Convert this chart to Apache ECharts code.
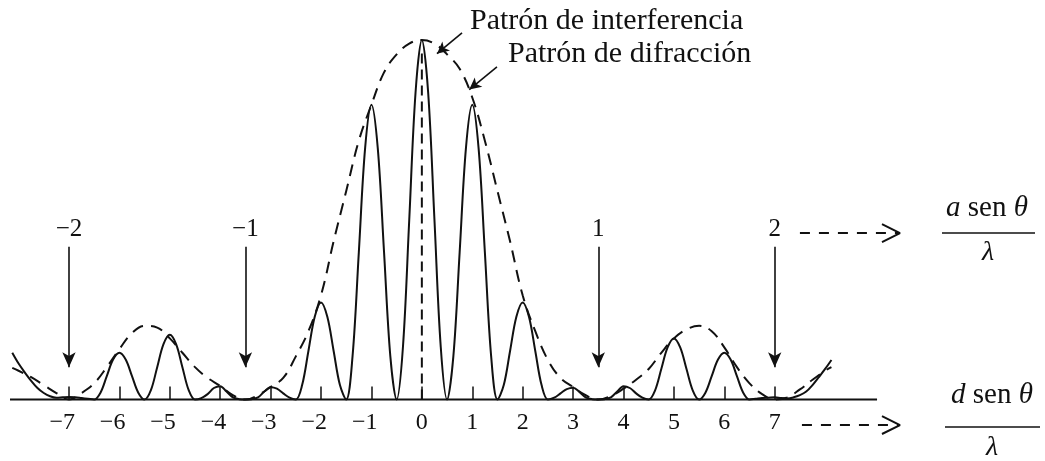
<!DOCTYPE html>
<html><head><meta charset="utf-8">
<script src="https://cdn.jsdelivr.net/npm/echarts@6/dist/echarts.min.js"></script>
<style>html,body{margin:0;padding:0;background:#fff}#c{width:1045px;height:461px}</style>
</head><body><div id="c"></div><script>
// ---------- data ----------
// x positions in units of d·senθ/λ, intensity relative to the central maximum
const sampleX = [
 -8.125,-8,-7.875,-7.75,-7.625,-7.5,-7.375,-7.25,-7.125,
 -7,-6.875,-6.75,-6.625,-6.5,-6.375,-6.25,-6.125,
 -6,-5.875,-5.75,-5.625,-5.5,-5.375,-5.25,-5.125,
 -5,-4.875,-4.75,-4.625,-4.5,-4.375,-4.25,-4.125,
 -4,-3.875,-3.75,-3.625,-3.5,-3.375,-3.25,-3.125,
 -3,-2.875,-2.75,-2.625,-2.5,-2.375,-2.25,-2.125,
 -2,-1.875,-1.75,-1.625,-1.5,-1.375,-1.25,-1.125,
 -1,-0.875,-0.75,-0.625,-0.5,-0.375,-0.25,-0.125,
 0,0.125,0.25,0.375,0.5,0.625,0.75,0.875,
 1,1.125,1.25,1.375,1.5,1.625,1.75,1.875,
 2,2.125,2.25,2.375,2.5,2.625,2.75,2.875,
 3,3.125,3.25,3.375,3.5,3.625,3.75,3.875,
 4,4.125,4.25,4.375,4.5,4.625,4.75,4.875,
 5,5.125,5.25,5.375,5.5,5.625,5.75,5.875,
 6,6.125,6.25,6.375,6.5,6.625,6.75,6.875,
 7,7.125,7.25,7.375,7.5,7.625,7.75,7.875,
 8,8.125
];
const interference = [
 0.13,0.10,0.075,0.052,0.032,0.018,0.009,0.005,0.006,
 0.007,0.006,0.004,0.002,0,0.019,0.065,0.111,
 0.13,0.111,0.065,0.019,0,0.026,0.09,0.154,
 0.18,0.154,0.09,0.026,0,0.004,0.015,0.032,
 0.037,0.022,0.006,0.001,0,0.001,0.006,0.022,
 0.034,0.03,0.017,0.005,0,0.04,0.135,0.23,
 0.27,0.23,0.135,0.04,0,0.12,0.41,0.70,
 0.82,0.70,0.41,0.12,0,0.146,0.5,0.854,
 1.0,0.854,0.5,0.146,0,0.12,0.41,0.70,
 0.82,0.70,0.41,0.12,0,0.04,0.135,0.23,
 0.27,0.23,0.135,0.04,0,0.005,0.017,0.029,
 0.033,0.021,0.006,0.001,0,0.001,0.006,0.022,
 0.037,0.032,0.017,0.005,0,0.025,0.085,0.145,
 0.17,0.145,0.085,0.025,0,0.019,0.065,0.111,
 0.13,0.111,0.065,0.019,0,0.002,0.004,0.005,
 0.006,0.004,0.003,0.006,0.012,0.022,0.04,0.062,
 0.085,0.11
];
const envelopeX = [
 -8.125,-8,-7.75,-7.5,-7.25,-7,-6.75,-6.5,-6.25,-6,-5.75,-5.5,-5.25,-5,-4.75,-4.5,-4.25,-4,-3.75,
 -3.5,-3.25,-3,-2.75,-2.5,-2.25,-2,-1.75,-1.5,-1.25,-1,-0.75,-0.5,-0.25,
 0,0.25,0.5,0.75,1,1.25,1.5,1.75,2,2.25,2.5,2.75,3,3.25,
 3.5,3.75,4,4.25,4.5,4.75,5,5.25,5.5,5.75,6,6.25,6.5,6.75,7,7.25,7.5,7.75,8,8.125
];
const diffraction = [
 0.088,0.08,0.062,0.04,0.018,0,0.018,0.045,0.09,0.14,0.185,0.205,0.2,0.17,0.13,0.09,0.06,0.038,0.012,
 0,0.012,0.035,0.06,0.12,0.19,0.29,0.44,0.58,0.72,0.82,0.91,0.96,0.99,
 1.0,0.99,0.96,0.92,0.84,0.72,0.58,0.44,0.29,0.19,0.11,0.06,0.035,0.012,
 0,0.01,0.03,0.055,0.085,0.13,0.17,0.195,0.205,0.19,0.145,0.09,0.045,0.015,0,0.006,0.028,0.055,0.08,0.09
];
const tickValues = [-7,-6,-5,-4,-3,-2,-1,0,1,2,3,4,5,6,7];
const orderPositions = [-7,-3.5,3.5,7];        // a·senθ/λ = -2,-1,1,2
const orderLabels = ['−2','−1','1','2'];
const titleInterference = 'Patrón de interferencia';
const titleDiffraction = 'Patrón de difracción';

// ---------- chart ----------
const FONT = 'Liberation Serif';
const INK = '#111';
const X_MIN = -8.17, X_AXIS_END = 9.03, X_MAX = 9.7;
const chart = echarts.init(document.getElementById('c'), null, {renderer:'canvas'});

const solidData = sampleX.map((x,i)=>[x, interference[i]]);
const envData = envelopeX.map((x,i)=>[x, diffraction[i]]);

const orderLines = orderPositions.map((x,i)=>[
  {coord:[x,0.425], name: orderLabels[i]},
  {coord:[x,0.09]}
]);
const pointerLines = [
  [{coord:[0.797,1.02]},{coord:[0.30,0.962]}],
  [{coord:[1.49,0.925]},{coord:[0.94,0.862]}]
];

const arrowStyle = {color:INK, width:2, type:[10,9]};
chart.setOption({
  animation:false,
  grid:{left:10, right:1045-10-(X_MAX-X_MIN)*50.41, top:0, bottom:61.5},
  xAxis:{
    type:'value', min:X_MIN, max:X_MAX,
    axisLine:{show:false},
    axisTick:{show:true, inside:true, length:13, customValues:tickValues, lineStyle:{color:INK, width:1.5}},
    axisLabel:{
      customValues:tickValues, margin:11, color:INK, fontFamily:FONT, fontSize:24,
      formatter:v => v<0 ? '−'+Math.abs(v)+'{h|−}' : String(v),
      rich:{h:{color:'rgba(0,0,0,0)', fontFamily:FONT, fontSize:24}}
    },
    splitLine:{show:false}
  },
  yAxis:{type:'value', min:0, max:1.1113, show:false},
  series:[
    {name:'eje x', type:'line', data:[[X_MIN,0],[X_AXIS_END,0]], showSymbol:false, clip:false,
     lineStyle:{color:INK, width:2}, z:1},
    {name:titleDiffraction, type:'line', data:envData, smooth:0.4, showSymbol:false, clip:false,
     lineStyle:{color:INK, width:2, type:[12,8]}, z:2},
    {name:titleInterference, type:'line', data:solidData, smooth:0.35, showSymbol:false, clip:false,
     lineStyle:{color:INK, width:2}, z:3},
    {name:'eje', type:'line', data:[[0,0],[0,0.965]], showSymbol:false,
     lineStyle:{color:INK, width:2, type:[10,6]}, z:2},
    {name:'órdenes', type:'line', data:[], markLine:{
      silent:true, symbol:['none','arrow'], symbolSize:[10,15], animation:false,
      lineStyle:{color:INK, width:1.6, type:'solid'},
      label:{show:true, position:'start', formatter:'{b}', distance:5, color:INK, fontFamily:FONT, fontSize:25},
      data:orderLines}},
    {name:'flechas', type:'line', data:[], markLine:{
      silent:true, symbol:['none','arrow'], symbolSize:[9,12], animation:false,
      lineStyle:{color:INK, width:1.6, type:'solid'},
      label:{show:false}, data:pointerLines}},
    // dashed arrows pointing to the axis-quantity fractions
    {name:'flecha a', type:'line', data:[[7.5,0.463],[9.45,0.463]], showSymbol:false, clip:false, lineStyle:arrowStyle},
    {name:'punta a', type:'line', data:[[9.128,0.488],[9.485,0.463],[9.128,0.438]], showSymbol:false, clip:false, lineStyle:{color:INK,width:2}},
    {name:'flecha d', type:'line', data:[[7.54,-0.071],[9.45,-0.071]], showSymbol:false, clip:false, lineStyle:arrowStyle},
    {name:'punta d', type:'line', data:[[9.128,-0.046],[9.485,-0.071],[9.128,-0.096]], showSymbol:false, clip:false, lineStyle:{color:INK,width:2}}
  ],
  graphic:[
    {type:'text', x:470, y:21, style:{text:titleInterference, font:'30px "'+FONT+'"', fill:INK, align:'left', verticalAlign:'middle'}},
    {type:'text', x:508, y:54, style:{text:titleDiffraction, font:'30px "'+FONT+'"', fill:INK, align:'left', verticalAlign:'middle'}},
    {type:'text', x:987, y:208, style:{text:'{i|a}{r| sen }{i|θ}', align:'center', verticalAlign:'middle', fill:INK,
      rich:{i:{fontFamily:FONT, fontSize:29, fontStyle:'italic', fill:INK}, r:{fontFamily:FONT, fontSize:29, fill:INK}}}},
    {type:'line', shape:{x1:942,y1:233,x2:1035,y2:233}, style:{stroke:INK, lineWidth:1.5}},
    {type:'text', x:988, y:253, style:{text:'λ', align:'center', verticalAlign:'middle', fill:INK, font:'italic 28px "'+FONT+'"'}},
    {type:'text', x:992, y:395, style:{text:'{i|d}{r| sen }{i|θ}', align:'center', verticalAlign:'middle', fill:INK,
      rich:{i:{fontFamily:FONT, fontSize:29, fontStyle:'italic', fill:INK}, r:{fontFamily:FONT, fontSize:29, fill:INK}}}},
    {type:'line', shape:{x1:945,y1:427,x2:1040,y2:427}, style:{stroke:INK, lineWidth:1.5}},
    {type:'text', x:992, y:448, style:{text:'λ', align:'center', verticalAlign:'middle', fill:INK, font:'italic 28px "'+FONT+'"'}}
  ]
});
</script></body></html>
